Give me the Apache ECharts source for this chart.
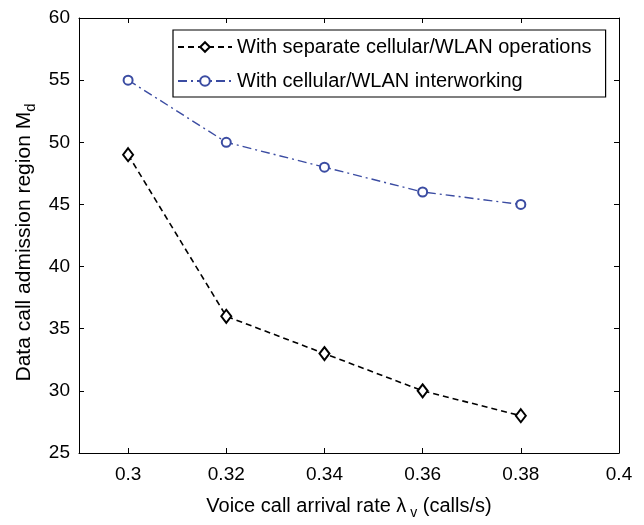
<!DOCTYPE html>
<html>
<head>
<meta charset="utf-8">
<script src="https://cdn.jsdelivr.net/npm/echarts@6/dist/echarts.min.js"></script>
<style>
html,body{margin:0;padding:0;background:#fff;}
#c{width:644px;height:525px;}
</style>
</head>
<body>
<div id="c"></div>
<script>
var xValues = [0.3, 0.32, 0.34, 0.36, 0.38];
var separateOps = [49, 36, 33, 30, 28];
var interworking = [55, 50, 48, 46, 45];
var xTicks = [0.3, 0.32, 0.34, 0.36, 0.38, 0.4];
var seriesNames = ['With separate cellular/WLAN operations', 'With cellular/WLAN interworking'];

var FONT = 'Liberation Sans, Arial, sans-serif';
function pairs(xs, ys) { return xs.map(function (x, i) { return [x, ys[i]]; }); }

var chart = echarts.init(document.getElementById('c'));
var axisLineStyle = { show: true, lineStyle: { color: '#000', width: 1 } };
chart.setOption({
  animation: false,
  backgroundColor: '#fff',
  grid: { left: 79, right: 25, top: 18, bottom: 61, containLabel: false },
  legend: {
    orient: 'vertical',
    left: 173, top: 30,
    padding: [7, 14, 6, 4],
    itemGap: 14,
    itemWidth: 54, itemHeight: 12,
    borderColor: '#000', borderWidth: 1.2,
    textStyle: { fontFamily: FONT, fontSize: 20, color: '#000' },
    data: seriesNames
  },
  xAxis: [{
    type: 'value', min: 0.29, max: 0.4, position: 'bottom',
    axisLine: axisLineStyle,
    splitLine: { show: false },
    axisTick: { show: true, inside: true, length: 5, customValues: xTicks, lineStyle: { color: '#000' } },
    axisLabel: { customValues: xTicks, fontFamily: FONT, fontSize: 19, color: '#000', margin: 12 },
    name: 'Voice call arrival rate λ{sub| v} (calls/s)',
    nameLocation: 'middle', nameGap: 39,
    nameTextStyle: { fontFamily: FONT, fontSize: 20, color: '#000',
      rich: { sub: { fontFamily: FONT, fontSize: 14, color: '#000', padding: [14, 0, 0, 0] } } }
  }, {
    type: 'value', min: 0.29, max: 0.4, position: 'top',
    axisLine: axisLineStyle,
    splitLine: { show: false },
    axisTick: { show: true, inside: true, length: 5, customValues: xTicks, lineStyle: { color: '#000' } },
    axisLabel: { show: false }
  }],
  yAxis: [{
    type: 'value', min: 25, max: 60, interval: 5, position: 'left',
    axisLine: axisLineStyle,
    splitLine: { show: false },
    axisTick: { show: true, inside: true, length: 5, lineStyle: { color: '#000' } },
    axisLabel: { fontFamily: FONT, fontSize: 19, color: '#000', margin: 9 },
    name: 'Data call admission region M{sub|d}',
    nameLocation: 'middle', nameGap: 39, nameRotate: 90,
    nameTextStyle: { fontFamily: FONT, fontSize: 21, color: '#000', padding: [0, 14, 0, 0],
      rich: { sub: { fontFamily: FONT, fontSize: 15, color: '#000', padding: [12, 0, 0, 0] } } }
  }, {
    type: 'value', min: 25, max: 60, interval: 5, position: 'right',
    axisLine: axisLineStyle,
    splitLine: { show: false },
    axisTick: { show: true, inside: true, length: 5, lineStyle: { color: '#000' } },
    axisLabel: { show: false }
  }],
  series: [{
    name: seriesNames[0], type: 'line',
    data: pairs(xValues, separateOps),
    symbol: 'emptyDiamond', symbolSize: [10, 13],
    lineStyle: { color: '#000', width: 1.6, type: [6, 4] },
    itemStyle: { color: '#000', borderColor: '#000', borderWidth: 2.2 }
  }, {
    name: seriesNames[1], type: 'line',
    data: pairs(xValues, interworking),
    symbol: 'emptyCircle', symbolSize: 9,
    lineStyle: { color: '#3b4ca2', width: 1.4, type: [9, 4, 2, 4] },
    itemStyle: { color: '#3b4ca2', borderColor: '#3b4ca2', borderWidth: 1.8 }
  }]
});
</script>
</body>
</html>
